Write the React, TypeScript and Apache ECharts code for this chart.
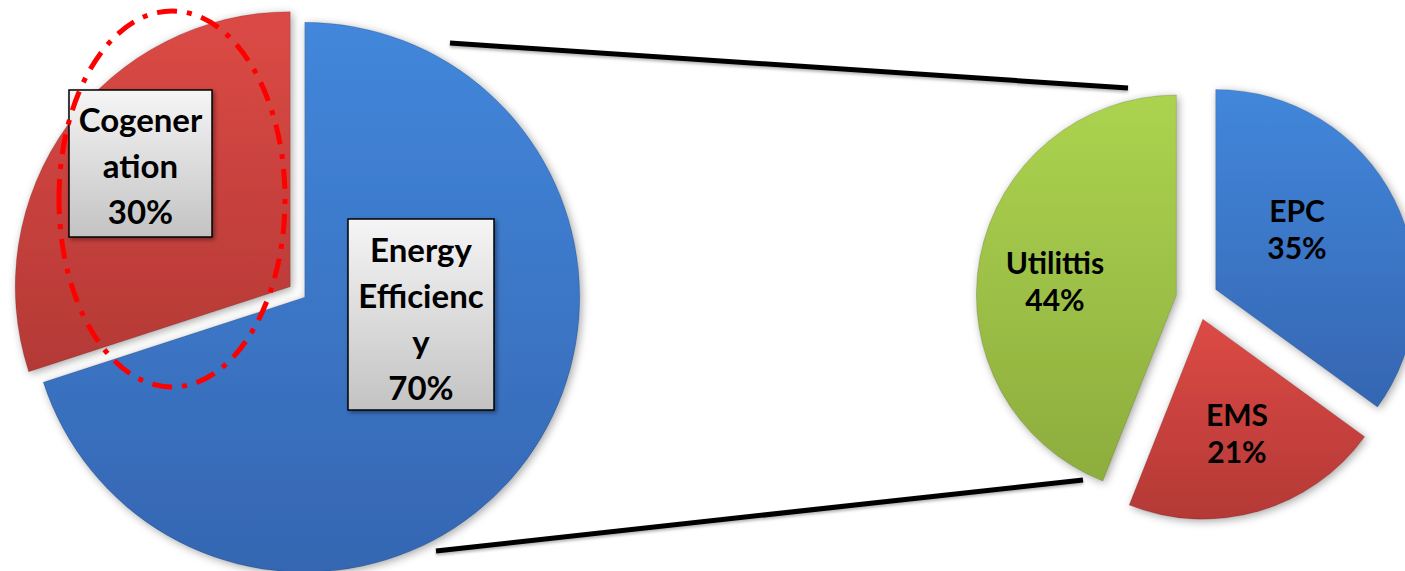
import React, { useEffect, useRef } from "react";
import * as echarts from "echarts";

// ---- data ----
const leftNames = ["Energy Efficiency", "Cogeneration"];
const leftValues = [70, 30];
const leftLabelText = ["Energy\nEfficienc\ny", "Cogener\nation"];

const rightNames = ["EPC", "EMS", "Utilittis"];
const rightValues = [35, 21, 44];

// ---- styling / layout ----
const FONT = 'Lato, "Open Sans", sans-serif';
const BLUE = ["#4287db", "#3566b2"];
const RED = ["#dc4a45", "#b43936"];
const GREEN = ["#acd350", "#8dad3d"];
const leftColors = [BLUE, RED];
const rightColors = [BLUE, RED, GREEN];
// label boxes [x, y, w, h] and text centre
const leftLabelBox = [
  [348, 219, 146, 191],
  [69, 90, 143, 147],
];
const leftLabelCenter = [
  [421, 318],
  [140.5, 165],
];
const rightLabelCenter = [
  [1297, 228],
  [1237, 432],
  [1055, 280],
];

function grad(c: string[]) {
  return new echarts.graphic.LinearGradient(0, 0, 0, 1, [
    { offset: 0, color: c[0] },
    { offset: 1, color: c[1] },
  ]);
}

const sliceStyle = {
  shadowBlur: 8,
  shadowColor: "rgba(0,0,0,0.35)",
  shadowOffsetX: 2,
  shadowOffsetY: 2,
  borderColor: "rgba(0,0,0,0.15)",
  borderWidth: 1,
};

export default function App() {
  const ref = useRef<HTMLDivElement>(null);
  useEffect(() => {
    document.body.style.margin = "0";
    const chart = echarts.init(ref.current!, null, { renderer: "svg" });
    const leftData = leftNames.map((n, i) => ({
      name: n,
      value: leftValues[i],
      selected: true,
      itemStyle: { color: grad(leftColors[i]), ...sliceStyle },
    }));
    const rightData = rightNames.map((n, i) => ({
      name: n,
      value: rightValues[i],
      selected: true,
      itemStyle: { color: grad(rightColors[i]), ...sliceStyle },
    }));

    const labelGraphics: any[] = [];
    leftNames.forEach((_, i) => {
      const [x, y, w, h] = leftLabelBox[i];
      labelGraphics.push({
        type: "rect",
        z: 80,
        shape: { x, y, width: w, height: h },
        style: {
          fill: new echarts.graphic.LinearGradient(0, 0, 0, 1, [
            { offset: 0, color: "#f5f5f5" },
            { offset: 1, color: "#c3c3c3" },
          ]),
          stroke: "#000",
          lineWidth: 1.5,
          shadowBlur: 4,
          shadowColor: "rgba(0,0,0,0.4)",
          shadowOffsetX: 2,
          shadowOffsetY: 2,
        },
      });
      labelGraphics.push({
        type: "text",
        z: 81,
        x: leftLabelCenter[i][0],
        y: leftLabelCenter[i][1],
        style: {
          text: `${leftLabelText[i]}\n${leftValues[i]}%`,
          font: `bold 33px ${FONT}`,
          lineHeight: 46,
          fill: "#000",
          align: "center",
          verticalAlign: "middle",
        },
      });
    });
    rightNames.forEach((n, i) => {
      labelGraphics.push({
        type: "text",
        z: 81,
        x: rightLabelCenter[i][0],
        y: rightLabelCenter[i][1],
        style: {
          text: `${n}\n${rightValues[i]}%`,
          font: `bold 30px ${FONT}`,
          lineHeight: 37,
          fill: "#000",
          align: "center",
          verticalAlign: "middle",
        },
      });
    });

    chart.setOption({
      animation: false,
      series: [
        {
          type: "pie",
          center: [297.5, 292],
          radius: 275,
          startAngle: 90,
          clockwise: true,
          selectedMode: "multiple",
          selectedOffset: 9,
          emphasis: { disabled: true },
          label: { show: false },
          labelLine: { show: false },
          data: leftData,
          z: 2,
        },
        {
          type: "pie",
          center: [1197, 299],
          radius: 200,
          startAngle: 90,
          clockwise: true,
          selectedMode: "multiple",
          selectedOffset: 21,
          emphasis: { disabled: true },
          label: { show: false },
          labelLine: { show: false },
          data: rightData,
          z: 2,
        },
      ],
      graphic: [
        {
          type: "line",
          z: 50,
          shape: { x1: 450, y1: 43, x2: 1128, y2: 88 },
          style: {
            stroke: "#000",
            lineWidth: 5,
            shadowBlur: 3,
            shadowColor: "rgba(0,0,0,0.3)",
            shadowOffsetY: 2,
          },
        },
        {
          type: "line",
          z: 50,
          shape: { x1: 436, y1: 551, x2: 1083, y2: 480 },
          style: {
            stroke: "#000",
            lineWidth: 5,
            shadowBlur: 3,
            shadowColor: "rgba(0,0,0,0.3)",
            shadowOffsetY: 2,
          },
        },
        ...labelGraphics,
        {
          type: "ellipse",
          z: 100,
          shape: { cx: 172, cy: 199, rx: 113, ry: 188 },
          style: {
            fill: "transparent",
            stroke: "#ff0000",
            lineWidth: 5,
            lineDash: [20, 10, 5, 10],
          },
        },
      ],
    });
    return () => chart.dispose();
  }, []);
  return (
    <div
      ref={ref}
      style={{ position: "absolute", left: 0, top: 0, width: 1405, height: 571 }}
    />
  );
}
